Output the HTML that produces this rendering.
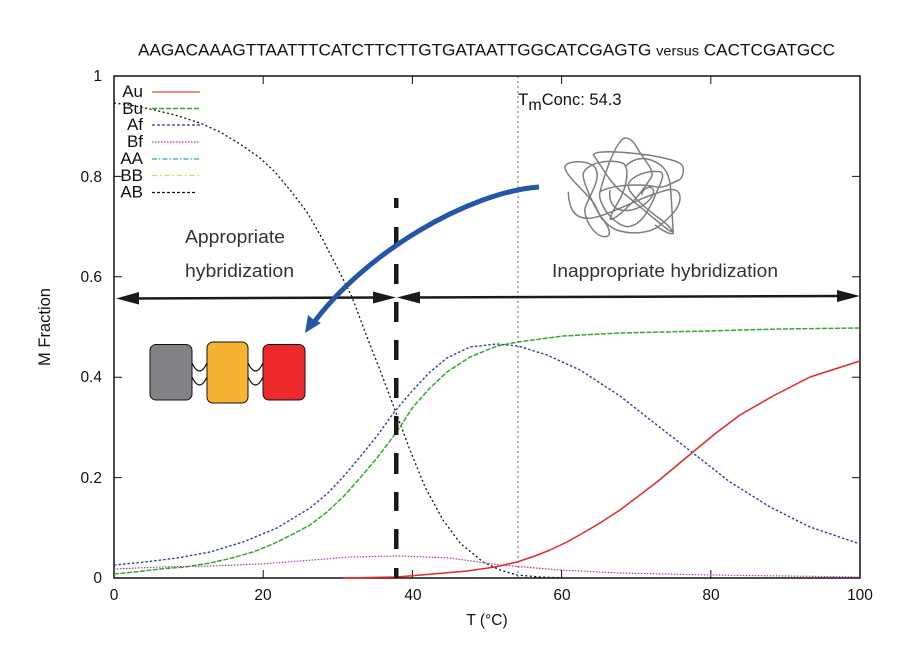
<!DOCTYPE html>
<html><head><meta charset="utf-8"><style>html,body{margin:0;padding:0;background:#fff}svg{display:block}text{font-family:"Liberation Sans",sans-serif;fill:#111}</style></head>
<body>
<svg width="901" height="655" viewBox="0 0 901 655" xmlns="http://www.w3.org/2000/svg">
<text x="138" y="55.500" font-size="16.500" textLength="697" lengthAdjust="spacingAndGlyphs">AAGACAAAGTTAATTTCATCTTCTTGTGATAATTGGCATCGAGTG <tspan font-size="14">versus</tspan> CACTCGATGCC</text>
<g stroke="#111" stroke-width="1" fill="none">
<path d="M114,176.400h8M114,276.800h8M114,377.200h8M114,477.600h8M860,176.400h-8M860,276.800h-8M860,377.200h-8M860,477.600h-8"/>
<path d="M263.200,578v-8M412.400,578v-8M561.600,578v-8M710.800,578v-8M263.200,76v8M412.400,76v8M561.600,76v8M710.800,76v8"/>
</g>
<path d="M518,76V578" stroke="#666" stroke-width="1" stroke-dasharray="2 3" fill="none"/>
<rect x="114" y="76" width="746" height="502" fill="none" stroke="#111" stroke-width="1.500"/>
<g font-size="15.500" text-anchor="end">
<text x="102" y="583">0</text><text x="102" y="483">0.2</text><text x="102" y="382">0.4</text><text x="102" y="282">0.6</text><text x="102" y="182">0.8</text><text x="102" y="81">1</text>
</g>
<g font-size="15.500" text-anchor="middle">
<text x="114" y="600">0</text><text x="263" y="600">20</text><text x="413" y="600">40</text><text x="562" y="600">60</text><text x="711" y="600">80</text><text x="860" y="600">100</text>
<text x="487" y="625">T (°C)</text>
<text transform="translate(50,327) rotate(-90)" font-size="16.500">M Fraction</text>
</g>
<g font-size="17" text-anchor="end">
<text x="143" y="97">Au</text><text x="143" y="114">Bu</text><text x="143" y="130">Af</text><text x="143" y="147">Bf</text><text x="143" y="164">AA</text><text x="143" y="181">BB</text><text x="143" y="197.500">AB</text>
</g>
<g fill="none" stroke-width="1.200">
<path d="M152,92h48" stroke="#e8403a"/>
<path d="M152,108.500h48" stroke="#35a82a" stroke-width="1.500" stroke-dasharray="5 2"/>
<path d="M152,125h48" stroke="#2a3fa0" stroke-dasharray="3 2"/>
<path d="M152,142h47" stroke="#b03aa0" stroke-dasharray="1.500 1.500"/>
<path d="M152,159h47" stroke="#28a8c0" stroke-dasharray="5 2 1.500 2"/>
<path d="M152,175.500h47" stroke="#d8d850" stroke-dasharray="5 3 1.500 3"/>
<path d="M152,192.500h44" stroke="#111" stroke-dasharray="3 2"/>
</g>
<!-- curves -->
<g fill="none" stroke-linejoin="round">
<polyline stroke="#111" stroke-width="1.300" stroke-dasharray="2 2.500" points="114,103 130,105 150,109 175,115 200,123 220,132 240,144 260,158 275,172 290,190 307,212 323,240 340,273 352,297 367,337 380,370 395,410 410,450 425,487 443,520 460,543 483,562 500,570 517,575 540,577 565,578"/>
<polyline stroke="#2a3fa0" stroke-width="1.400" stroke-dasharray="2.500 2" points="114,565 145,562 177,558 210,552 243,542 277,528 310,508 328,493 343,477 360,457 377,436 395,411 413,390 430,372 447,358 470,347 497,344 518,346 547,355 580,370 620,396 653,422 693,453 730,482 770,507 810,527 860,544"/>
<polyline stroke="#35a82a" stroke-width="1.500" stroke-dasharray="5 1.500" points="114,574 135,572 160,569 185,567 210,563 232,558 253,552 273,544 293,534 310,525 327,512 344,496 360,478 377,458 393,437 400,427 413,407 430,388 447,372 470,357 497,346 518,342 563,336 620,333 707,331 780,329 860,328"/>
<polyline stroke="#b03aa0" stroke-width="1.200" stroke-dasharray="1.500 1.500" points="114,569 160,567 210,566 260,564 300,561 350,557 400,556 450,558 500,565 560,570 620,573 710,575 860,577"/>
<polyline stroke="#e02a2a" stroke-width="1.500" points="343,578 397,577 433,574 467,571 495,567 517,562 535,556 550,550 567,542 583,533 600,523 620,510 657,482 693,452 716,433 740,415 773,396 810,377 835,369 860,361"/>
</g>
<!-- tangle -->
<g transform="translate(555,130) scale(.33333)">
<path fill="none" stroke="#7d7d7d" stroke-width="4.500" stroke-linejoin="round" d="M40,185C42,240 60,265 100,265C150,262 230,215 290,195C330,180 370,165 375,200C378,235 340,265 310,290C280,310 230,315 185,300C150,285 130,250 120,225C95,185 25,135 30,108C40,90 105,90 122,115C140,150 100,200 90,235C85,260 115,320 150,320C175,320 160,285 140,265C115,225 80,150 85,130C95,100 160,85 205,100C225,115 215,175 190,215C170,250 150,285 185,260C230,225 265,180 290,140C300,120 260,80 250,60C235,30 215,15 200,30C175,55 150,130 135,185C125,220 180,290 220,290C260,285 280,240 295,210C310,170 340,125 310,125C270,120 220,145 220,165C215,190 290,250 320,270C345,290 365,315 340,300C300,270 250,225 200,185C165,160 135,100 115,75C120,60 200,65 280,75C320,82 360,90 375,100C392,108 385,145 372,150C355,155 330,178 300,170C260,160 170,165 135,185M210,110C240,80 270,80 300,95C330,110 340,130 345,160C350,200 350,240 355,310C345,315 320,300 300,285M165,180C160,215 175,250 230,240C270,230 300,200 295,180C285,160 260,180 260,195"/>
</g>
<!-- text labels -->
<g font-size="18">
<text x="185" y="243" textLength="100" lengthAdjust="spacingAndGlyphs" style="fill:#333">Appropriate</text>
<text x="185" y="277" textLength="109" lengthAdjust="spacingAndGlyphs" style="fill:#333">hybridization</text>
<text x="552" y="277" textLength="226" lengthAdjust="spacingAndGlyphs" style="fill:#333">Inappropriate hybridization</text>
</g>
<text x="518" y="105" font-size="17">T<tspan font-size="16" dy="5">m</tspan><tspan dy="-5" font-size="16.500">Conc: 54.3</tspan></text>
<!-- vertical dashed -->
<g fill="#1a1a1a">
<rect x="394" y="198" width="4.500" height="10"/><rect x="394" y="227" width="4.500" height="20"/><rect x="394" y="264" width="4.500" height="20"/><rect x="394" y="302" width="4.500" height="20"/><rect x="394" y="340" width="4.500" height="20"/><rect x="394" y="378" width="4.500" height="20"/><rect x="394" y="416" width="4.500" height="19"/><rect x="394" y="453" width="4.500" height="21"/><rect x="394" y="492" width="4.500" height="19"/><rect x="394" y="529" width="4.500" height="20"/><rect x="394" y="568" width="4.500" height="10"/>
</g>
<!-- double arrows -->
<path d="M130,298.500L380,297.500M412,297.500L845,296" stroke="#1a1a1a" stroke-width="2.500" fill="none"/>
<path d="M116,298.500L139,292V304.500ZM396,297.500L373,291.500V303.500ZM397,297.500L420,291.500V303.500ZM860,296L837,290V302Z" fill="#1a1a1a"/>
<!-- blue arrow -->
<path d="M539,187C470,192 365,252 312,325" fill="none" stroke="#2356a5" stroke-width="5"/>
<path d="M305,333L308,315L314,320L321,323Z" fill="#2356a5"/>
<!-- blocks -->
<path d="M192,363Q199.500,379 207,363M192,377Q199.500,393 207,377M248,363Q255.500,379 263,363M248,377Q255.500,393 263,377" fill="none" stroke="#111" stroke-width="1.200"/>
<rect x="150" y="344.500" width="42" height="55.500" rx="6" fill="#808285" stroke="#111" stroke-width="1"/>
<rect x="207" y="342" width="41" height="61" rx="6" fill="#f6b233" stroke="#111" stroke-width="1"/>
<rect x="263" y="344.500" width="42" height="55.500" rx="6" fill="#ee2a2c" stroke="#111" stroke-width="1"/>
</svg>
</body></html>
